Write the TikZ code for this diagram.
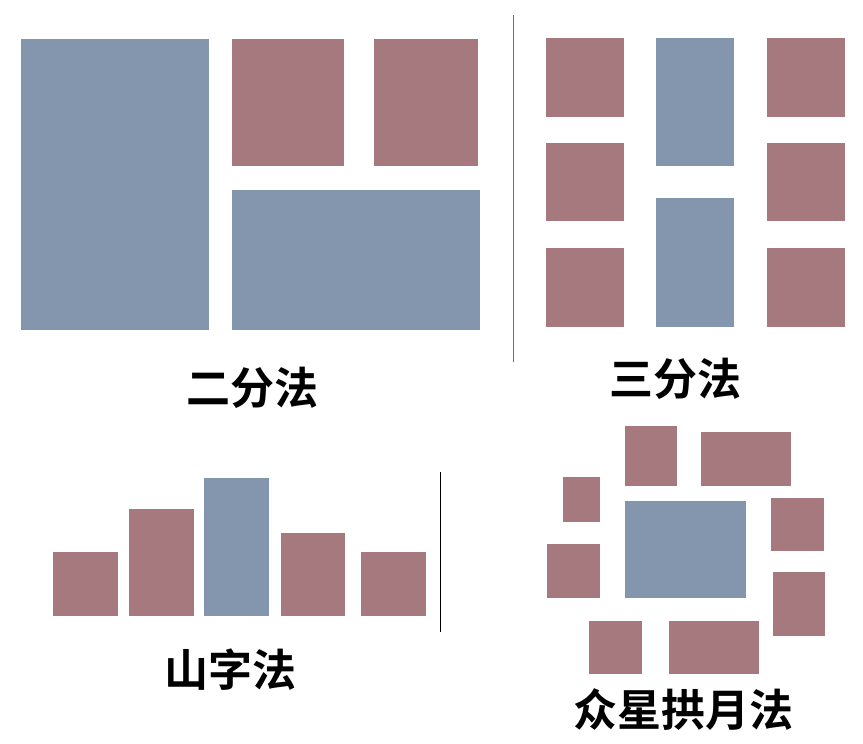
\documentclass[tikz,border=0pt]{standalone}
\usepackage{fontspec}
\newfontfamily\cjk{Noto Sans CJK SC}[BoldFont={Noto Sans CJK SC Bold}]
\definecolor{pblue}{RGB}{132,149,174}
\definecolor{pred}{RGB}{166,121,126}
\definecolor{pline}{RGB}{110,110,110}
\tikzset{
  blk/.style={inner sep=0pt, outer sep=0pt, draw=none, anchor=north west},
  bluebox/.style={blk, fill=pblue},
  redbox/.style={blk, fill=pred},
  caption/.style={font=\cjk\bfseries\fontsize{44}{44}\selectfont, text=black, inner sep=0pt},
  sep/.style={draw=pline, line width=1pt}
}
\begin{document}
\begin{tikzpicture}[x=1pt,y=-1pt]
\useasboundingbox (0,0) rectangle (863,744);
% 二分法
\node[bluebox, minimum width=188pt, minimum height=291pt] (a1) at (21,39) {};
\node[redbox, minimum width=112pt, minimum height=127pt] (a2) at (232,39) {};
\node[redbox, minimum width=104pt, minimum height=127pt] (a3) at (374,39) {};
\node[bluebox, minimum width=248pt, minimum height=140pt] (a4) at (232,190) {};
\node[caption] (ta) at (252,388) {二分法};
\coordinate (l1t) at (513,15); \coordinate (l1b) at (513,362);
\draw[sep] (l1t) -- (l1b);
% 三分法
\node[redbox, minimum width=78pt, minimum height=79pt] (b1) at (546,38) {};
\node[redbox, minimum width=78pt, minimum height=78pt] (b2) at (546,143) {};
\node[redbox, minimum width=78pt, minimum height=79pt] (b3) at (546,248) {};
\node[bluebox, minimum width=78pt, minimum height=128pt] (b4) at (656,38) {};
\node[bluebox, minimum width=78pt, minimum height=129pt] (b5) at (656,198) {};
\node[redbox, minimum width=78pt, minimum height=79pt] (b6) at (767,38) {};
\node[redbox, minimum width=78pt, minimum height=78pt] (b7) at (767,143) {};
\node[redbox, minimum width=78pt, minimum height=79pt] (b8) at (767,248) {};
\node[caption] (tb) at (675,379) {三分法};
% 山字法
\node[redbox, minimum width=65pt, minimum height=64pt] (c1) at (53,552) {};
\node[redbox, minimum width=65pt, minimum height=107pt] (c2) at (129,509) {};
\node[bluebox, minimum width=65pt, minimum height=138pt] (c3) at (204,478) {};
\node[redbox, minimum width=64pt, minimum height=83pt] (c4) at (281,533) {};
\node[redbox, minimum width=65pt, minimum height=64pt] (c5) at (361,552) {};
\node[caption] (tc) at (230,670) {山字法};
\coordinate (l2t) at (440,472); \coordinate (l2b) at (440,632);
\draw[sep, draw=black] (l2t) -- (l2b);
% 众星拱月法
\node[redbox, minimum width=52pt, minimum height=60pt] (d1) at (625,426) {};
\node[redbox, minimum width=90pt, minimum height=54pt] (d2) at (701,432) {};
\node[redbox, minimum width=37pt, minimum height=45pt] (d3) at (563,477) {};
\node[bluebox, minimum width=121pt, minimum height=97pt] (d4) at (625,501) {};
\node[redbox, minimum width=53pt, minimum height=53pt] (d5) at (771,498) {};
\node[redbox, minimum width=53pt, minimum height=54pt] (d6) at (547,544) {};
\node[redbox, minimum width=52pt, minimum height=64pt] (d7) at (773,572) {};
\node[redbox, minimum width=53pt, minimum height=53pt] (d8) at (589,621) {};
\node[redbox, minimum width=90pt, minimum height=53pt] (d9) at (669,621) {};
\node[caption] (td) at (683,710) {众星拱月法};
\end{tikzpicture}
\end{document}
